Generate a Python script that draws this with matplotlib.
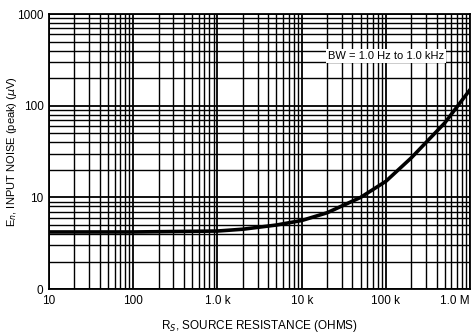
import numpy as np
import matplotlib
matplotlib.use("Agg")
import matplotlib.pyplot as plt
from matplotlib.ticker import FixedLocator, NullFormatter

plt.rcParams['font.family'] = ['Liberation Sans Narrow', 'Liberation Sans', 'DejaVu Sans']

# curve
rs = [10, 100, 1000, 2000, 5000, 10000, 20000, 50000, 100000, 200000, 500000, 1000000]
en = [4.2, 4.2, 4.3, 4.5, 5.0, 5.6, 6.8, 10, 15, 27, 65, 150]

xticks = [10, 100, 1000, 10000, 100000, 1000000]
xlabels = ['10', '100', '1.0 k', '10 k', '100 k', '1.0 M']
yticks = [1, 10, 100, 1000]
ylabels = ['0', '10', '100', '1000']

fig = plt.figure(figsize=(4.72, 3.35), dpi=100)
ax = fig.add_axes([0.104, 0.137, 0.892, 0.821])

ax.set_xscale('log')
ax.set_yscale('log')
ax.set_xlim(10, 1e6)
ax.set_ylim(1, 1000)

# graph paper grid
minx = [m * 10.0**d for d in range(1, 6) for m in range(2, 10)]
miny = [m * 10.0**d for d in range(0, 3) for m in range(2, 10)]
ax.xaxis.set_minor_locator(FixedLocator(minx))
ax.yaxis.set_minor_locator(FixedLocator(miny))
ax.xaxis.set_minor_formatter(NullFormatter())
ax.yaxis.set_minor_formatter(NullFormatter())
ax.grid(True, which='major', color='black', lw=1.3)
ax.grid(True, which='minor', color='black', lw=1.0)
ax.set_axisbelow(True)

ax.plot(rs, en, color='black', lw=2.6)

ax.set_xticks(xticks)
ax.set_xticklabels(xlabels, fontsize=8.5)
ax.get_xticklabels()[-1].set_horizontalalignment('right')
ax.set_yticks(yticks)
ax.set_yticklabels(ylabels, fontsize=8.5)
ax.tick_params(which='both', length=0, pad=4)
for s in ax.spines.values():
    s.set_linewidth(1.3)

ax.text(1e5, 350, 'BW = 1.0 Hz to 1.0 kHz', ha='center', va='center', fontsize=8,
        bbox=dict(facecolor='white', edgecolor='none', pad=1.5))

ax.set_xlabel('R$_S$, SOURCE RESISTANCE (OHMS)', fontsize=8.5, labelpad=8)
ax.set_ylabel('E$_n$, INPUT NOISE (peak) ($\\mu$V)', fontsize=8)
ax.yaxis.set_label_coords(-0.072, 0.5)

fig.savefig('out.png', dpi=100)
